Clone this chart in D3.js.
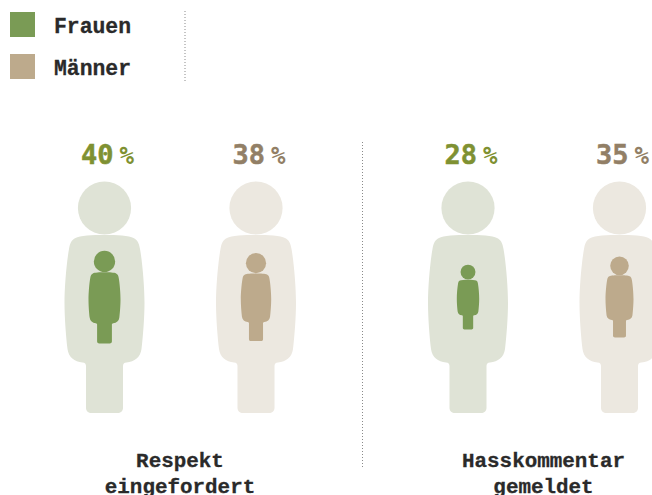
<!DOCTYPE html>
<html><head><meta charset="utf-8">
<script src="https://cdnjs.cloudflare.com/ajax/libs/d3/7.8.5/d3.min.js"></script>
<style>html,body{margin:0;padding:0;background:#fff;overflow:hidden}svg{display:block;font-family:"Liberation Mono",monospace}</style>
</head><body><svg id="c" width="652" height="495"></svg>
<script>
const groups = ["Respekt eingefordert", "Hasskommentar gemeldet"];
const groupLines = [["Respekt", "eingefordert"], ["Hasskommentar", "gemeldet"]];
const series = ["Frauen", "Männer"];
const frauen = [40, 28];
const maenner = [38, 35];
const fill = {Frauen:"#7a9b55", "Männer":"#bdaa8c"};
const bgFill = {Frauen:"#dfe3d6", "Männer":"#ece8e0"};
const labelFill = {Frauen:"#7f9132", "Männer":"#927f66"};

const svg = d3.select("#c");
const gx = d3.scalePoint().domain(groups).range([0, 363.5]);
const sx = d3.scalePoint().domain(series).range([104.5, 256]);
const size = d3.scaleLinear().domain([0, 100]).range([0, 1]);
const cy = 297;

const bodyPath = "M0,-62C12,-62 25,-61.5 29,-59C33,-57 34.5,-54 35.5,-48C38,-34 40,-10 40,6C40,20 38.5,40 37,52C36,60 30,65 22,65.5C19.5,65.7 18.5,67 18.5,69L18.5,111C18.5,114 16,116 13,116L-13,116C-16,116 -18.5,114 -18.5,111L-18.5,69C-18.5,67 -19.5,65.7 -22,65.5C-30,65 -36,60 -37,52C-38.5,40 -40,20 -40,6C-40,-10 -38,-34 -35.5,-48C-34.5,-54 -33,-57 -29,-59C-25,-61.5 -12,-62 0,-62Z";

function figure(x, k, color) {
  const g = svg.append("g").attr("transform", `translate(${x},${cy}) scale(${k})`).attr("fill", color);
  g.append("circle").attr("cy", -89).attr("r", 26.6);
  g.append("path").attr("d", bodyPath);
}

const data = [];
groups.forEach((g, i) => {
  data.push({g, s:"Frauen", v:frauen[i]});
  data.push({g, s:"Männer", v:maenner[i]});
});
data.forEach(d => {
  const x = gx(d.g) + sx(d.s);
  figure(x, 1, bgFill[d.s]);
  figure(x, size(d.v), fill[d.s]);
  const t = svg.append("text").attr("x", x + 3).attr("y", 163.5).attr("text-anchor", "middle")
    .attr("fill", labelFill[d.s]).attr("font-weight", 700)
    .style("font-family", '"DejaVu Sans Mono",monospace');
  t.append("tspan").attr("font-size", 27).attr("stroke", labelFill[d.s]).attr("stroke-width", 0.5).text(d.v);
  t.append("tspan").attr("font-size", 24).attr("dx", 6).text("%");
});

// legend
series.forEach((s, i) => {
  svg.append("rect").attr("x", 10).attr("y", 12 + 42 * i).attr("width", 25).attr("height", 25).attr("fill", fill[s]);
  svg.append("text").attr("x", 54).attr("y", 32.5 + 42.5 * i).attr("font-size", 21.4).attr("font-weight", 700)
    .attr("fill", "#2a2a2a").attr("stroke", "#2a2a2a").attr("stroke-width", 0.3).text(s);
});

// dotted rules
[[185, 11, 82], [362.5, 142, 467]].forEach(([x, a, b]) => {
  svg.append("line").attr("x1", x).attr("x2", x).attr("y1", a).attr("y2", b)
    .attr("stroke", "#8a8a8a").attr("stroke-width", 1).attr("stroke-dasharray", "1 2");
});

// group labels
groups.forEach((g, i) => {
  groupLines[i].forEach((line, j) => {
    svg.append("text").attr("x", gx(g) + 180).attr("y", 466.5 + 26 * j).attr("text-anchor", "middle")
      .attr("font-size", 20.9).attr("font-weight", 700).attr("fill", "#2a2a2a")
      .attr("stroke", "#2a2a2a").attr("stroke-width", 0.3).text(line);
  });
});
</script></body></html>
